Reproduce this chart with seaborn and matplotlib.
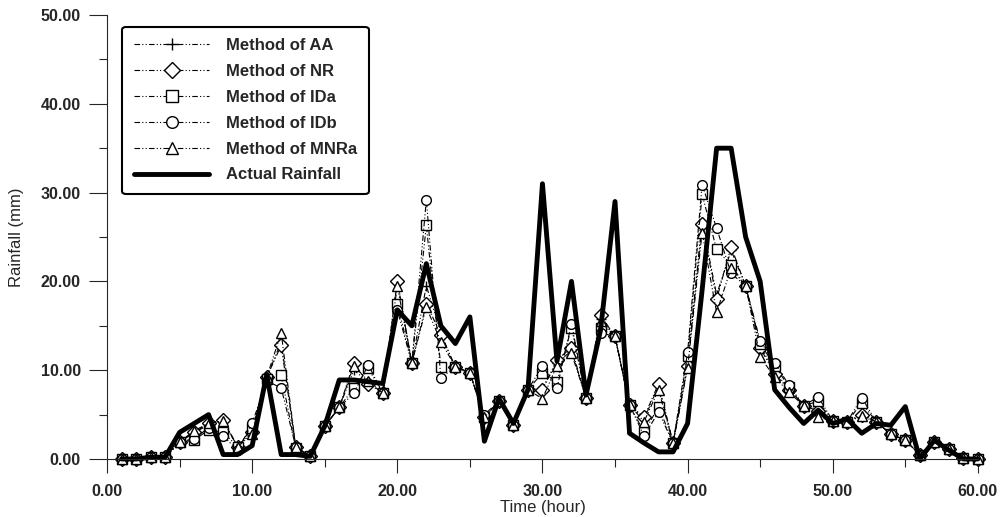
import pandas as pd
import seaborn as sns
import matplotlib.pyplot as plt
from matplotlib.ticker import MultipleLocator, FormatStrFormatter

# hours 1..60
hours = list(range(1, 61))

actual = [0.0, 0.0, 0.2, 0.2, 3.0, 4.0, 5.0, 0.5, 0.5, 1.5,
          9.5, 0.5, 0.5, 0.3, 3.7, 8.9, 8.9, 8.7, 8.5, 16.8,
          15.0, 22.0, 15.0, 13.0, 16.0, 2.0, 6.8, 4.0, 7.8, 31.0,
          11.0, 20.0, 7.2, 14.5, 29.0, 2.9, 1.8, 0.8, 0.8, 4.0,
          19.0, 35.0, 35.0, 25.0, 20.0, 7.8, 5.8, 4.0, 5.5, 4.0,
          4.5, 2.9, 4.0, 3.8, 5.9, 0.0, 2.1, 1.0, 0.0, 0.0]

aa = [0.0, 0.0, 0.2, 0.2, 1.9, 3.0, 3.8, 4.2, 1.4, 3.2,
      9.2, 13.2, 1.4, 0.3, 3.7, 5.8, 10.0, 8.7, 7.4, 20.2,
      10.8, 19.5, 14.2, 10.2, 9.7, 4.7, 6.5, 3.8, 7.8, 8.0,
      10.8, 12.2, 6.9, 15.8, 13.8, 6.1, 4.5, 8.2, 1.8, 10.5,
      26.7, 18.5, 23.5, 19.5, 12.8, 9.8, 7.9, 6.0, 5.6, 4.3,
      4.2, 5.0, 4.2, 2.8, 2.1, 0.5, 1.9, 1.1, 0.1, 0.0]

nr = [0.0, 0.0, 0.2, 0.2, 1.9, 3.0, 4.0, 4.4, 1.4, 3.0,
      9.2, 12.8, 1.4, 0.3, 3.7, 5.8, 10.8, 8.5, 7.4, 20.0,
      10.8, 17.5, 14.0, 10.4, 9.7, 4.7, 6.5, 3.8, 7.8, 7.8,
      11.2, 12.5, 6.9, 16.2, 13.8, 6.1, 4.7, 8.5, 1.8, 10.5,
      26.5, 18.0, 23.9, 19.5, 12.5, 9.6, 7.8, 6.0, 5.4, 4.3,
      4.2, 5.0, 4.2, 2.8, 2.1, 0.5, 1.9, 1.1, 0.1, 0.0]

ida = [0.0, 0.0, 0.2, 0.2, 1.9, 2.1, 3.3, 3.0, 1.4, 3.5,
       9.0, 9.5, 1.2, 0.3, 3.7, 5.8, 8.0, 10.2, 7.4, 17.5,
       10.8, 26.3, 10.4, 10.4, 9.7, 4.7, 6.5, 3.8, 7.8, 9.7,
       8.7, 14.8, 6.9, 14.7, 13.8, 6.1, 3.0, 5.9, 1.8, 11.6,
       29.8, 23.6, 21.8, 19.5, 13.0, 10.5, 8.1, 6.0, 6.5, 4.3,
       4.2, 6.3, 4.2, 2.8, 2.1, 0.5, 1.9, 1.1, 0.1, 0.0]

idb = [0.0, 0.0, 0.2, 0.2, 1.9, 2.3, 3.5, 2.6, 1.0, 4.0,
       8.8, 8.0, 1.4, 0.3, 3.7, 5.8, 7.4, 10.6, 7.4, 16.8,
       10.8, 29.2, 9.1, 10.4, 9.7, 5.0, 6.5, 3.8, 7.8, 10.5,
       8.0, 15.2, 6.9, 14.2, 13.8, 6.1, 2.6, 5.3, 1.8, 12.0,
       30.9, 26.0, 20.9, 19.5, 13.3, 10.8, 8.3, 6.0, 7.0, 4.3,
       4.2, 6.9, 4.2, 2.8, 2.1, 0.5, 1.9, 1.1, 0.1, 0.0]

mnra = [0.0, 0.0, 0.2, 0.2, 1.9, 3.2, 4.0, 4.3, 1.4, 2.8,
        9.2, 14.2, 1.4, 0.3, 3.7, 5.8, 10.5, 8.8, 7.4, 19.5,
        10.8, 17.1, 13.2, 10.4, 9.7, 4.7, 6.5, 3.8, 7.8, 6.8,
        10.5, 11.9, 6.9, 15.5, 13.8, 6.1, 4.2, 7.8, 1.8, 10.2,
        25.5, 16.5, 21.5, 19.5, 11.5, 9.2, 7.5, 6.0, 4.7, 4.3,
        4.2, 4.8, 4.2, 2.8, 2.1, 0.5, 1.9, 1.1, 0.1, 0.0]

df = pd.DataFrame({"Time": hours, "AA": aa, "NR": nr, "IDa": ida,
                   "IDb": idb, "MNRa": mnra, "Actual": actual})

sns.set_style("ticks")
plt.rcParams['font.family'] = ['Liberation Sans', 'DejaVu Sans']

fig = plt.figure(figsize=(10.05, 5.17), dpi=100)
ax = fig.add_axes([0.1065, 0.1122, 0.8665, 0.8588])

dashdot = (0, (5, 2, 1, 2, 1, 2))
methods = [("AA", "+", "Method of AA"),
           ("NR", "D", "Method of NR"),
           ("IDa", "s", "Method of IDa"),
           ("IDb", "o", "Method of IDb"),
           ("MNRa", "^", "Method of MNRa")]

for col, mk, lab in methods:
    sns.lineplot(data=df, x="Time", y=col, ax=ax, label=lab, color="black",
                 linewidth=0.8, linestyle=dashdot, marker=mk, markersize=7,
                 markerfacecolor="white", markeredgecolor="black",
                 markeredgewidth=1.0, clip_on=False)

sns.lineplot(data=df, x="Time", y="Actual", ax=ax, label="Actual Rainfall",
             color="black", linewidth=3.5, clip_on=False)

ax.set_xlim(0, 60)
ax.set_ylim(0, 50)
ax.xaxis.set_major_locator(MultipleLocator(10))
ax.xaxis.set_minor_locator(MultipleLocator(5))
ax.yaxis.set_major_locator(MultipleLocator(10))
ax.yaxis.set_minor_locator(MultipleLocator(5))
ax.xaxis.set_major_formatter(FormatStrFormatter("%.2f"))
ax.yaxis.set_major_formatter(FormatStrFormatter("%.2f"))
ax.tick_params(axis="x", which="major", length=10, width=0.8, labelsize=11.5, pad=8)
ax.tick_params(axis="x", which="minor", length=6, width=0.8)
ax.tick_params(axis="y", which="major", length=13, width=0.8, labelsize=11.5, pad=6)
ax.tick_params(axis="y", which="minor", length=6, width=0.8)
for lbl in ax.get_xticklabels() + ax.get_yticklabels():
    lbl.set_fontweight("bold")

sns.despine(ax=ax)
ax.spines["left"].set_linewidth(0.8)
ax.spines["bottom"].set_linewidth(0.8)

ax.set_xlabel("Time (hour)", fontsize=12, labelpad=1)
ax.set_ylabel("Rainfall (mm)", fontsize=12, labelpad=12)

leg = ax.legend(loc="upper left", bbox_to_anchor=(0.012, 0.985), frameon=True,
                fancybox=True, edgecolor="black", framealpha=1,
                prop={"weight": "bold", "size": 12}, handlelength=4.5,
                labelspacing=0.65, borderpad=0.7, markerscale=1.2,
                handletextpad=1.0, borderaxespad=0.3)
leg.get_frame().set_linewidth(1.5)

fig.savefig("out.png", dpi=100)
